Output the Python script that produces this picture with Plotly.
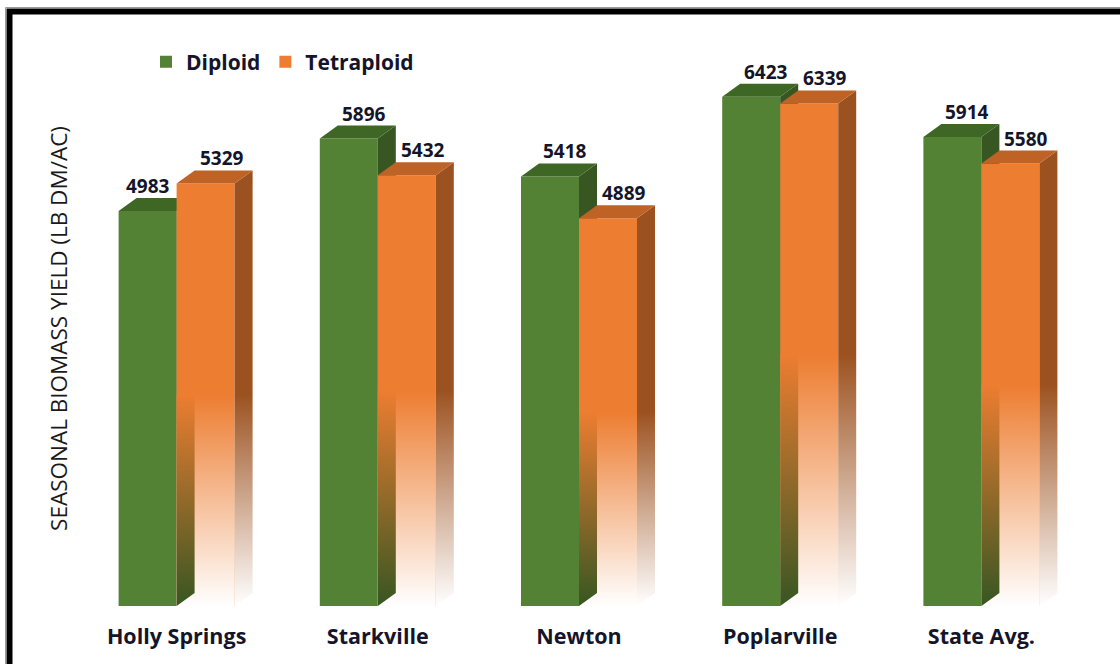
import numpy as np
import plotly.graph_objects as go

# ---------------- data ----------------
categories = ["Holly Springs", "Starkville", "Newton", "Poplarville", "State Avg."]
diploid = [4983, 5896, 5418, 6423, 5914]
tetraploid = [5329, 5432, 4889, 6339, 5580]
series_names = ["Diploid", "Tetraploid"]
y_title = "SEASONAL BIOMASS YIELD (LB DM/AC)"

# ---------------- layout geometry ----------------
W, H = 1120, 664
M_L, M_R, M_T, M_B = 76, 38, 51, 58
Y_MAX = 7000
X_MIN, X_MAX = -0.5, 4.5
plot_w = W - M_L - M_R
plot_h = H - M_T - M_B
px_per_x = plot_w / (X_MAX - X_MIN)
px_per_y = plot_h / Y_MAX

BAR_W = 58 / px_per_x          # bar width in x units
DX = 18 / px_per_x             # 3-D depth offsets
DY = 13 / px_per_y
FADE = 0.5                      # fraction of the orange height where the fade ends

GREEN = "rgb(84,130,53)"
GREEN_TOP = "rgb(62,103,38)"
GREEN_SIDE = "rgb(55,86,34)"
ORANGE = "rgb(237,125,49)"
ORANGE_TOP = "rgb(190,98,38)"
ORANGE_SIDE = "rgb(156,82,32)"
TEXT = "#14142a"
FONT = "Open Sans"

pos = np.arange(len(categories))


def px_to_paper_x(px):
    return (px - M_L) / plot_w


def px_to_paper_y(py):
    return (H - M_B - py) / plot_h


def poly_trace(xs, ys, color=None, zorder=1, gradient=None):
    kw = dict(x=xs, y=ys, mode="lines", fill="toself", line=dict(width=0),
              hoverinfo="skip", showlegend=False, zorder=zorder)
    if gradient is not None:
        kw["fillgradient"] = gradient
        kw["fillcolor"] = "rgba(0,0,0,0)"
    else:
        kw["fillcolor"] = color
    return go.Scatter(**kw)


fig = go.Figure()

# front faces (the bars themselves)
fig.add_trace(go.Bar(x=pos, y=diploid, name=series_names[0], marker=dict(color=GREEN, line=dict(width=0)),
                     zorder=0))
fig.add_trace(go.Bar(x=pos, y=tetraploid, name=series_names[1], marker=dict(color=ORANGE, line=dict(width=0)),
                     zorder=2))

# green side + top faces
gsx, gsy, gtx, gty = [], [], [], []
for p, g in zip(pos, diploid):
    l, r = p - BAR_W, p
    gsx += [r, r + DX, r + DX, r, r, None]
    gsy += [0, DY, g + DY, g, 0, None]
    gtx += [l, r, r + DX, l + DX, l, None]
    gty += [g, g, g + DY, g + DY, g, None]
fig.add_trace(poly_trace(gsx, gsy, GREEN_SIDE, zorder=1))
fig.add_trace(poly_trace(gtx, gty, GREEN_TOP, zorder=1))

# orange faces
otx, oty = [], []
for p, g, o in zip(pos, diploid, tetraploid):
    l, r = p, p + BAR_W
    f = FADE * o
    # fade of the front face towards white
    fig.add_trace(poly_trace([l, r, r, l, l], [0, 0, f, f, 0], zorder=3,
                             gradient=dict(type="vertical", start=0, stop=f,
                                           colorscale=[[0, "rgba(255,255,255,1)"],
                                                       [1, "rgba(255,255,255,0)"]])))
    # green side face seen through the fading orange front
    st = min(f, g)
    fig.add_trace(poly_trace([l, l + DX, l + DX, l, l], [0, DY, st, st, 0], zorder=4,
                             gradient=dict(type="vertical", start=0, stop=st,
                                           colorscale=[[0, GREEN_SIDE], [1, ORANGE]])))
    # orange side face
    top = o + DY
    fig.add_trace(poly_trace([r, r + DX, r + DX, r, r], [0, DY, top, o, 0], zorder=3,
                             gradient=dict(type="vertical", start=0, stop=top,
                                           colorscale=[[0, "rgb(255,255,255)"],
                                                       [f / top, ORANGE_SIDE],
                                                       [1, ORANGE_SIDE]])))
    otx += [l, r, r + DX, l + DX, l, None]
    oty += [o, o, o + DY, o + DY, o, None]
fig.add_trace(poly_trace(otx, oty, ORANGE_TOP, zorder=3))

# value labels
lab_font = dict(family=FONT, size=19, color=TEXT, weight="bold")
for p, g, o in zip(pos, diploid, tetraploid):
    fig.add_annotation(x=p - BAR_W / 2, y=g, text=str(g), showarrow=False,
                       xshift=15 if g >= o else 0, yshift=25, yanchor="middle",
                       font=lab_font)
    fig.add_annotation(x=p + BAR_W / 2, y=o, text=str(o), showarrow=False,
                       xshift=16, yshift=25, yanchor="middle", font=lab_font)

# frame
fig.add_shape(type="rect", xref="paper", yref="paper",
              x0=px_to_paper_x(5.5), x1=px_to_paper_x(1140),
              y0=px_to_paper_y(700), y1=px_to_paper_y(7.5),
              line=dict(color="#9a9a9a", width=1), layer="above")
fig.add_shape(type="rect", xref="paper", yref="paper",
              x0=px_to_paper_x(9.5), x1=px_to_paper_x(1140),
              y0=px_to_paper_y(700), y1=px_to_paper_y(11.5),
              line=dict(color="black", width=6), layer="above")

fig.update_layout(
    width=W, height=H,
    margin=dict(l=M_L, r=M_R, t=M_T, b=M_B, pad=0),
    paper_bgcolor="white", plot_bgcolor="white",
    barmode="group", bargap=1 - 2 * BAR_W, bargroupgap=0,
    font=dict(family=FONT, color=TEXT),
    legend=dict(orientation="h", x=px_to_paper_x(146), y=px_to_paper_y(62),
                xanchor="left", yanchor="middle", bgcolor="rgba(0,0,0,0)",
                font=dict(family=FONT, size=21, color=TEXT, weight="bold"),
                traceorder="normal"),
    xaxis=dict(range=[X_MIN, X_MAX], tickmode="array", tickvals=pos, ticktext=categories,
               showgrid=False, zeroline=False, showline=False, ticks="",
               ticklabelstandoff=15,
               tickfont=dict(family=FONT, size=21.5, color=TEXT, weight="bold")),
    yaxis=dict(range=[0, Y_MAX], showgrid=False, zeroline=False, showline=False,
               showticklabels=False, ticks="",
               title=dict(text=y_title, standoff=1,
                          font=dict(family=FONT, size=22.5, color="#1a1a1a"))),
)

fig.write_html("out.html")
